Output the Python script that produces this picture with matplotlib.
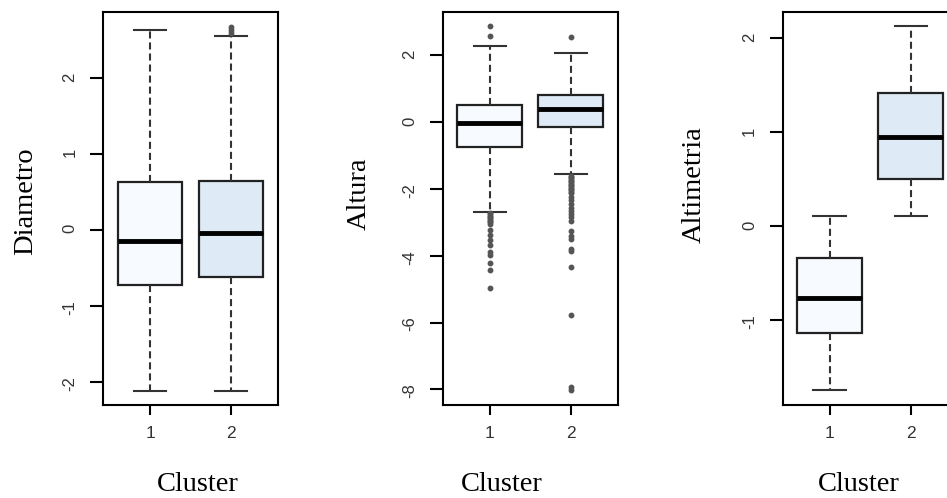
import matplotlib
matplotlib.use("Agg")
import matplotlib.pyplot as plt

plt.rcParams['font.family'] = ['Liberation Sans', 'DejaVu Sans']

clusters = ["1", "2"]
fills = ["#F7FBFF", "#DEEBF7"]

# Diametro
diam_med = [-0.14, -0.04]
diam_q1 = [-0.72, -0.61]
diam_q3 = [0.63, 0.645]
diam_lo = [-2.11, -2.11]
diam_hi = [2.64, 2.55]
diam_fliers = [[], [2.59, 2.63, 2.68]]

# Altura
alt_med = [-0.03, 0.40]
alt_q1 = [-0.73, -0.13]
alt_q3 = [0.52, 0.82]
alt_lo = [-2.69, -1.54]
alt_hi = [2.29, 2.06]
alt_fliers = [
    [2.59, 2.87, -2.72, -2.76, -2.80, -2.84, -2.88, -2.92, -2.96, -3.00, -3.04,
     -3.24, -3.39, -3.54, -3.69, -3.88, -3.99, -4.22, -4.43, -4.96],
    [2.56, -1.60, -1.64, -1.68, -1.72, -1.76, -1.80, -1.84, -1.88, -1.92, -1.96,
     -2.00, -2.04, -2.08, -2.12, -2.24, -2.34, -2.44, -2.56, -2.66, -2.76,
     -2.84, -2.96, -3.26, -3.42, -3.49, -3.79, -3.86, -4.35, -5.78, -7.93, -8.03],
]

# Altimetria
altm_med = [-0.76, 0.956]
altm_q1 = [-1.13, 0.50]
altm_q3 = [-0.333, 1.417]
altm_lo = [-1.74, 0.106]
altm_hi = [0.106, 2.13]
altm_fliers = [[], []]

names = ["Diametro", "Altura", "Altimetria"]
meds = [diam_med, alt_med, altm_med]
q1s = [diam_q1, alt_q1, altm_q1]
q3s = [diam_q3, alt_q3, altm_q3]
los = [diam_lo, alt_lo, altm_lo]
his = [diam_hi, alt_hi, altm_hi]
fliers = [diam_fliers, alt_fliers, altm_fliers]
yticks = [[-2, -1, 0, 1, 2], [-8, -6, -4, -2, 0, 2], [-1, 0, 1, 2]]
ylims = [(-2.30, 2.87), (-8.47, 3.30), (-1.90, 2.28)]

lefts = [0.1088, 0.4675, 0.8265]
ylab_x = [-0.445, -0.478, -0.508]
ylab_y = [0.52, 0.537, 0.562]
xlab_x = [0.54, 0.34, 0.436]

fig = plt.figure(figsize=(9.47, 4.98), dpi=100)

for k in range(3):
    ax = fig.add_axes([lefts[k], 0.1867, 0.1848, 0.789])
    stats = []
    for i in range(2):
        stats.append(dict(med=meds[k][i], q1=q1s[k][i], q3=q3s[k][i],
                          whislo=los[k][i], whishi=his[k][i], fliers=fliers[k][i]))
    bp = ax.bxp(stats, positions=[1, 2], widths=0.8, capwidths=0.4,
                patch_artist=True,
                boxprops=dict(edgecolor="#222222", linewidth=1.6),
                medianprops=dict(color="black", linewidth=3.5),
                whiskerprops=dict(color="#333333", linewidth=1.5, linestyle=(0, (3.4, 1.9))),
                capprops=dict(color="#333333", linewidth=1.5),
                flierprops=dict(marker="o", markersize=3.2, markerfacecolor="#555555",
                                markeredgecolor="#555555", linestyle="none"))
    for i, b in enumerate(bp["boxes"]):
        b.set_facecolor(fills[i])
    ax.set_xlim(0.42, 2.58)
    ax.set_ylim(*ylims[k])
    ax.set_xticks([1, 2], clusters)
    ax.set_yticks(yticks[k], [str(t) for t in yticks[k]])
    ax.tick_params(axis="x", length=7, width=1.5, pad=8, labelsize=12.5, labelcolor="#333333")
    ax.tick_params(axis="y", length=9.4, width=1.5, pad=9, labelsize=12,
                   labelrotation=90, labelcolor="#333333")
    for s in ax.spines.values():
        s.set_linewidth(1.5)
    ax.set_ylabel(names[k], family="Liberation Serif", fontsize=20.5, va="center")
    ax.yaxis.set_label_coords(ylab_x[k], ylab_y[k])
    ax.set_xlabel("Cluster", family="Liberation Serif", fontsize=20.5, va="center")
    ax.xaxis.set_label_coords(xlab_x[k], -0.201)

fig.savefig("out.png", dpi=100)
